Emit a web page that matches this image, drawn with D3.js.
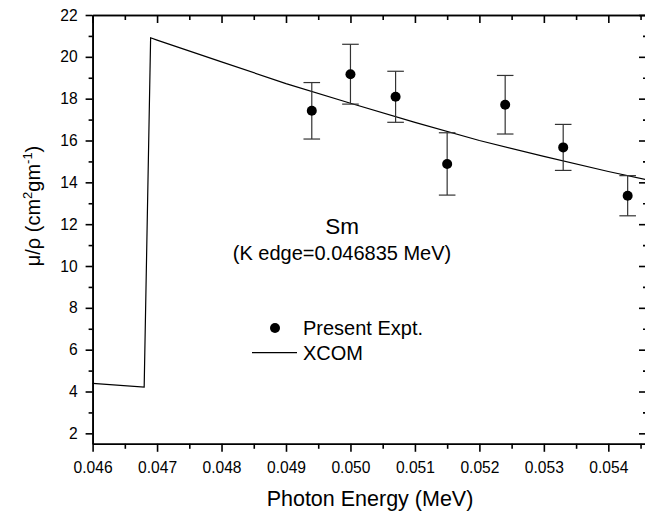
<!DOCTYPE html>
<html>
<head>
<meta charset="utf-8">
<script src="https://cdn.jsdelivr.net/npm/d3@7"></script>
<style>
  html, body { margin: 0; padding: 0; background: #fff; }
  svg { display: block; }
  text { font-family: "Liberation Sans", Arial, Helvetica, sans-serif; fill: #000; }
</style>
</head>
<body>
<svg id="chart" width="645" height="513"></svg>
<script>
// ---- data ----
const exptEnergy = [0.0494, 0.0500, 0.0507, 0.0515, 0.0524, 0.0533, 0.0543];
const exptValue  = [17.42, 19.17, 18.09, 14.88, 17.71, 15.67, 13.36];
const exptError  = [1.35, 1.43, 1.22, 1.49, 1.40, 1.10, 0.96];

const xcomEnergy = [0.0460, 0.0468, 0.0469, 0.0470, 0.0480, 0.0490, 0.0500, 0.0510, 0.0520, 0.0530, 0.0540, 0.0546];
const xcomValue  = [4.39, 4.21, 20.91, 20.80, 19.76, 18.72, 17.78, 16.87, 16.00, 15.24, 14.52, 14.12];

const xMajorTicks = [0.046, 0.047, 0.048, 0.049, 0.050, 0.051, 0.052, 0.053, 0.054];
const xMinorTicks = [0.0465, 0.0475, 0.0485, 0.0495, 0.0505, 0.0515, 0.0525, 0.0535, 0.0545];
const yMajorTicks = [2, 4, 6, 8, 10, 12, 14, 16, 18, 20, 22];
const yMinorTicks = [3, 5, 7, 9, 11, 13, 15, 17, 19, 21];

const elementLabel = "Sm";
const edgeLabel = "(K edge=0.046835 MeV)";
const legendLabels = ["Present Expt.", "XCOM"];

// ---- layout ----
const svg = d3.select("#chart");
const L = 92.6, T = 15, R = 647, B = 443.8;

const x = d3.scaleLinear().domain([0.046, 0.0546]).range([L, R]);
const y = d3.scaleLinear().domain([1.5, 22]).range([B, T]);

const axisW = 1.6;
function styleAxis(g, labels) {
  g.selectAll(".domain").attr("stroke", "#000").attr("stroke-width", axisW);
  g.selectAll(".tick line").attr("stroke", "#000").attr("stroke-width", axisW);
  if (!labels) g.selectAll(".tick text").remove();
}

// bottom axis (outward ticks)
const gb = svg.append("g").attr("transform", `translate(0,${B})`)
  .call(d3.axisBottom(x).tickValues(xMajorTicks).tickSize(8).tickSizeOuter(0).tickPadding(10)
    .tickFormat(d3.format(".3f")));
styleAxis(gb, true);
gb.selectAll(".tick text").attr("font-size", 15.6).attr("font-family", "Liberation Sans, Arial, sans-serif");
const gbm = svg.append("g").attr("transform", `translate(0,${B})`)
  .call(d3.axisBottom(x).tickValues(xMinorTicks).tickSize(5).tickSizeOuter(0).tickFormat(""));
styleAxis(gbm, false);

// top axis (inward ticks)
const gt = svg.append("g").attr("transform", `translate(0,${T})`)
  .call(d3.axisTop(x).tickValues(xMajorTicks).tickSize(-8).tickSizeOuter(0).tickFormat(""));
styleAxis(gt, false);
const gtm = svg.append("g").attr("transform", `translate(0,${T})`)
  .call(d3.axisTop(x).tickValues(xMinorTicks).tickSize(-5).tickSizeOuter(0).tickFormat(""));
styleAxis(gtm, false);

// left axis (outward ticks)
const gl = svg.append("g").attr("transform", `translate(${L},0)`)
  .call(d3.axisLeft(y).tickValues(yMajorTicks).tickSize(7).tickSizeOuter(0).tickPadding(8)
    .tickFormat(d3.format("d")));
styleAxis(gl, true);
gl.selectAll(".tick text").attr("font-size", 15.6).attr("font-family", "Liberation Sans, Arial, sans-serif");
const glm = svg.append("g").attr("transform", `translate(${L},0)`)
  .call(d3.axisLeft(y).tickValues(yMinorTicks).tickSize(4).tickSizeOuter(0).tickFormat(""));
styleAxis(glm, false);

// right axis (inward ticks)
const gr = svg.append("g").attr("transform", `translate(${R},0)`)
  .call(d3.axisRight(y).tickValues(yMajorTicks).tickSize(-8).tickSizeOuter(0).tickFormat(""));
styleAxis(gr, false);
const grm = svg.append("g").attr("transform", `translate(${R},0)`)
  .call(d3.axisRight(y).tickValues(yMinorTicks).tickSize(-4).tickSizeOuter(0).tickFormat(""));
styleAxis(grm, false);

// ---- XCOM line ----
const xcom = xcomEnergy.map((e, i) => ({ e, v: xcomValue[i] }));
svg.append("path")
  .datum(xcom)
  .attr("fill", "none")
  .attr("stroke", "#000")
  .attr("stroke-width", 1.2)
  .attr("d", d3.line().x(d => x(d.e)).y(d => y(d.v)));

// ---- experimental points with error bars ----
const expt = exptEnergy.map((e, i) => ({ e, v: exptValue[i], err: exptError[i] }));
const capHalf = 8.3;
const eb = svg.append("g").attr("stroke", "#333").attr("stroke-width", 1.2);
expt.forEach(d => {
  const cx = x(d.e), yt = y(d.v + d.err), yb = y(d.v - d.err);
  eb.append("line").attr("x1", cx).attr("x2", cx).attr("y1", yt).attr("y2", yb);
  eb.append("line").attr("x1", cx - capHalf).attr("x2", cx + capHalf).attr("y1", yt).attr("y2", yt);
  eb.append("line").attr("x1", cx - capHalf).attr("x2", cx + capHalf).attr("y1", yb).attr("y2", yb);
});
svg.append("g").selectAll("circle")
  .data(expt)
  .join("circle")
  .attr("cx", d => x(d.e))
  .attr("cy", d => y(d.v))
  .attr("r", 5)
  .attr("fill", "#000");

// ---- annotations ----
svg.append("text").attr("x", 342).attr("y", 234).attr("text-anchor", "middle")
  .attr("font-size", 22.5).text(elementLabel);
svg.append("text").attr("x", 342).attr("y", 260).attr("text-anchor", "middle")
  .attr("font-size", 20).text(edgeLabel);

// ---- legend ----
svg.append("circle").attr("cx", 275).attr("cy", 328).attr("r", 5).attr("fill", "#000");
svg.append("text").attr("x", 303).attr("y", 335).attr("font-size", 20).text(legendLabels[0]);
svg.append("line").attr("x1", 252).attr("x2", 297).attr("y1", 352.7).attr("y2", 352.7)
  .attr("stroke", "#000").attr("stroke-width", 1.2);
svg.append("text").attr("x", 303).attr("y", 359.5).attr("font-size", 20).text(legendLabels[1]);

// ---- axis titles ----
svg.append("text").attr("x", 370).attr("y", 506).attr("text-anchor", "middle")
  .attr("font-size", 21.5).text("Photon Energy (MeV)");

const yt = svg.append("text")
  .attr("transform", "translate(40,206) rotate(-90)")
  .attr("text-anchor", "middle")
  .attr("font-size", 20);
yt.append("tspan").text("\u03bc/\u03c1 (cm");
yt.append("tspan").attr("font-size", 13).attr("dy", -8).text("2");
yt.append("tspan").attr("dy", 8).text("gm");
yt.append("tspan").attr("font-size", 13).attr("dy", -8).text("-1");
yt.append("tspan").attr("dy", 8).text(")");
</script>
</body>
</html>
